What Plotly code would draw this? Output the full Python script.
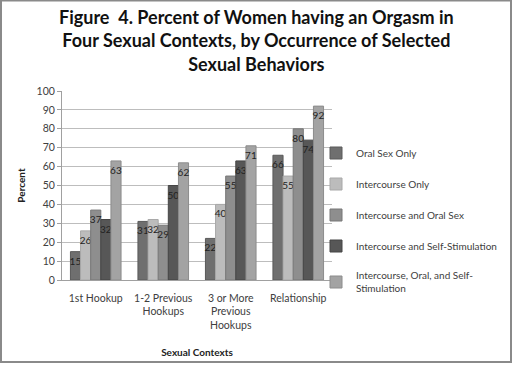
import plotly.graph_objects as go

categories = ["1st Hookup", "1-2 Previous<br>Hookups", "3 or More<br>Previous<br>Hookups", "Relationship"]
series_names = [
    "Oral Sex Only",
    "Intercourse Only",
    "Intercourse and Oral Sex",
    "Intercourse and Self-Stimulation",
    "Intercourse, Oral, and Self-<br>Stimulation",
]
oral_only = [15, 31, 22, 66]
intercourse_only = [26, 32, 40, 55]
intercourse_oral = [37, 29, 55, 80]
intercourse_self = [32, 50, 63, 74]
intercourse_oral_self = [63, 62, 71, 92]
y_ticks = [0, 10, 20, 30, 40, 50, 60, 70, 80, 90, 100]
title_text = ("<b>Figure  4. Percent of Women having an Orgasm in<br>"
              "Four Sexual Contexts, by Occurrence of Selected<br>Sexual Behaviors</b>")

series_values = [oral_only, intercourse_only, intercourse_oral, intercourse_self, intercourse_oral_self]
fills = ["#6f6f6f", "#bcbcbc", "#8e8e8e", "#575757", "#a3a3a3"]
edges = ["#5a5a5a", "#a8a8a8", "#777777", "#454545", "#8c8c8c"]

FONT = "Lato"
W, H = 513, 368
ML, MR, MT, MB = 62, 181, 91, 88
PW, PH = W - ML - MR, H - MT - MB

fig = go.Figure()
for i, (name, vals) in enumerate(zip(series_names, series_values)):
    fig.add_trace(go.Bar(
        x=categories, y=vals, name=name,
        marker=dict(color=fills[i], line=dict(color=edges[i], width=1)),
        text=[str(v) for v in vals],
        textposition="inside", insidetextanchor="end",
        textangle=0, constraintext="none",
        textfont=dict(family=FONT, size=10, color="#222222"),
        legendgroup=f"g{i}",
    ))

def px_x(p):
    return (p - ML) / PW

def px_y(p):
    return (H - MB - p) / PH

fig.update_layout(
    width=W, height=H,
    margin=dict(l=ML, r=MR, t=MT, b=MB, autoexpand=False),
    paper_bgcolor="white", plot_bgcolor="white",
    barmode="group", bargap=0.25, bargroupgap=0,
    font=dict(family=FONT, size=10, color="#404040"),
    legend=dict(
        x=px_x(316), y=px_y(220), xanchor="left", yanchor="middle",
        font=dict(family=FONT, size=10, color="#404040"),
        tracegroupgap=12, itemwidth=30, bgcolor="rgba(0,0,0,0)",
    ),
    xaxis=dict(
        showline=True, linecolor="#a0a0a0", ticks="outside", ticklen=8,
        tickcolor="rgba(0,0,0,0)", tickangle=0,
        tickfont=dict(family=FONT, size=10.5, color="#404040"),
        title=dict(text="<b>Sexual Contexts</b>", font=dict(family=FONT, size=10, color="#222222"), standoff=19),
    ),
    yaxis=dict(
        range=[0, 100], tickvals=y_ticks, showgrid=True, gridcolor="#bdbdbd", gridwidth=1,
        showline=True, linecolor="#a0a0a0", ticks="outside", ticklen=4, tickcolor="#a0a0a0",
        zeroline=False, tickfont=dict(family=FONT, size=10.5, color="#404040"),
        title=dict(text="<b>Percent</b>", font=dict(family=FONT, size=10, color="#222222"), standoff=9),
    ),
    annotations=[dict(
        text=title_text, xref="paper", yref="paper",
        x=px_x(W / 2), y=px_y(4), xanchor="center", yanchor="top",
        showarrow=False, align="center",
        font=dict(family=FONT, size=18, color="#111111"),
    )],
    shapes=[dict(
        type="rect", xref="paper", yref="paper",
        x0=px_x(1), x1=px_x(511), y0=px_y(362), y1=px_y(0.5),
        line=dict(color="#8a8a8a", width=2), layer="below",
    )],
)

fig.write_html(
    "out.html",
    config={"displayModeBar": False},
    post_script="document.body.style.margin='0';document.body.style.padding='0';",
)
